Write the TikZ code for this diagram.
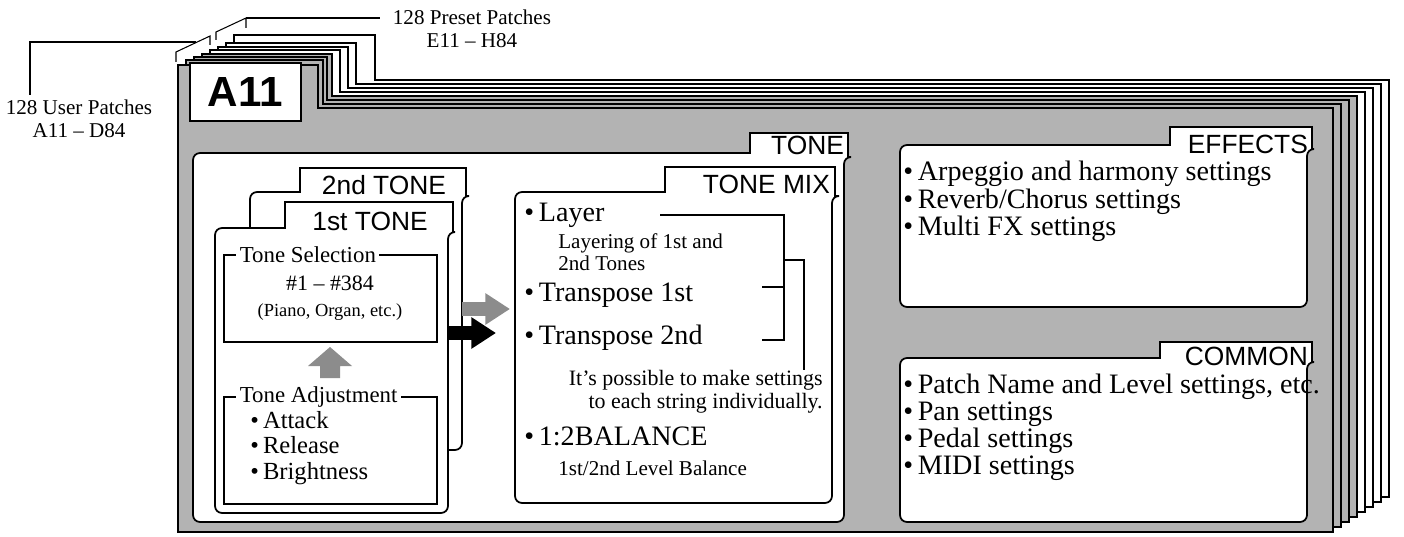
\documentclass[tikz,border=0pt]{standalone}
\usepackage{fontspec}
\setmainfont{Liberation Serif}
\setsansfont{Liberation Sans}
\usepackage{tikz}
\usetikzlibrary{arrows.meta}
\definecolor{pageGray}{HTML}{B3B3B3}
\definecolor{arrowGray}{HTML}{8C8C8C}

% card with a label tab at its top right: style, L, T, R, B, tab left, tab top, tab right
\newcommand{\tabcard}[8]{%
  \draw[#1] (#6,#3) [rounded corners=4pt] -- (#2,#3) -- (#2,#5) -- (#4,#5) -- (#4,{#3+4}) [sharp corners] -- (#8,{#3+4}) -- (#8,#7) -- (#6,#7) -- cycle;}
\newcommand{\bul}{\textbullet\,}

\begin{document}
\begin{tikzpicture}[
    x=0.02cm, y=-0.02cm,
    page/.style={draw=black, line width=1.1pt, line join=miter},
    card/.style={draw=black, fill=white, line width=1pt},
    box/.style={draw=black, fill=white, line width=0.6pt},
    tablabel/.style={anchor=south east, font=\sffamily\fontsize{15}{15}\selectfont, inner sep=1pt},
    item/.style={anchor=north west, align=left, font=\fontsize{16}{13.6}\selectfont, inner sep=0pt},
    note/.style={font=\fontsize{12.5}{13}\selectfont, inner sep=0pt},
    leader/.style={draw=black, line width=0.6pt},
    fatarrow/.style={-{Triangle[length=14pt,width=17pt]}, line width=8pt}
]
\useasboundingbox (0,0) rectangle (1404,537);

% stack of patch pages, back to front
\foreach \i/\tr/\tt/\fc in {7/375/35/white,6/356/43/white,5/348/47/white,4/340/50/white,3/332/54/pageGray,2/327/57/pageGray,1/323/60/pageGray}{
  \draw[page, fill=\fc] ({178+8*\i},{532-5*\i}) -- ({178+8*\i},\tt) -- (\tr,\tt) -- (\tr,{108-4*\i}) -- ({1333+8*\i},{108-4*\i}) -- ({1333+8*\i},{532-5*\i}) -- cycle;
}
\draw[page, fill=pageGray] (178,532) -- (178,65) -- (318,65) -- (318,108) -- (1333,108) -- (1333,532) -- cycle;
\node[box, line width=1pt, minimum width=111*0.02cm, minimum height=58*0.02cm, font=\sffamily\bfseries\fontsize{24}{24}\selectfont] (a11) at (245.5,92) {A11};

% bank callouts
\node[note, align=center, font=\fontsize{12}{13}\selectfont] (user) at (79,119) {128 User Patches\\A11 -- D84};
\node[note, align=center, font=\fontsize{12}{13}\selectfont] (preset) at (472,29) {128 Preset Patches\\E11 -- H84};
\coordinate (ub) at (210,36);
\coordinate (pb) at (246,18);
\draw[leader] (30,95) -- (30,42) -- (196,42);
\draw[leader] (176,62) -- (176,52) -- (ub) -- (210,45);
\draw[leader] (pb) -- (380,18);
\draw[leader] (216,40) -- (216,32) -- (pb) -- (246,28);

% TONE panel
\tabcard{card}{193}{153}{844}{522}{750}{133}{848}
\node[tablabel] (tone) at (846,157) {TONE};

% 2nd and 1st tone cards
\tabcard{card}{250}{192}{462}{450}{300}{168}{466}
\node[tablabel, anchor=south] (tone2) at (384,197) {2nd TONE};
\tabcard{card}{215}{228}{448}{513}{285}{202}{453}
\node[tablabel, anchor=south] (tone1) at (370,233) {1st TONE};

\draw[box] (224,255) rectangle (437,342);
\node[note, fill=white, inner sep=2pt, anchor=west, font=\fontsize{13}{14}\selectfont] (sel) at (236,255) {Tone Selection};
\node[note, align=center] (range) at (330,298) {{\fontsize{12.5}{14}\selectfont \#1 -- \#384}\\[2pt]{\fontsize{10.5}{11}\selectfont (Piano, Organ, etc.)}};

\draw[box] (224,397) rectangle (437,504);
\node[note, fill=white, inner sep=2pt, anchor=west, font=\fontsize{13}{14}\selectfont] (adj) at (236,397) {Tone Adjustment};
\node[item, font=\fontsize{14}{14.5}\selectfont] (adjlist) at (250,411) {\bul Attack\\\bul Release\\\bul Brightness};

\draw[fill=arrowGray, draw=none] (320,378) -- (320,366) -- (308,366) -- (330,347) -- (352,366) -- (340,366) -- (340,378) -- cycle;

% TONE MIX card
\tabcard{card}{515}{192}{832}{503}{665}{167}{835}
\node[tablabel] (mix) at (832,196) {TONE MIX};
\coordinate (arrA) at (510,309);
\coordinate (arrB) at (496,333);
\draw[fatarrow, arrowGray] (462,309) -- (arrA);
\draw[fatarrow, black] (448,333) -- (arrB);

\node[item] (layer) at (524,203) {\bul Layer};
\node[note, anchor=north west, align=left, font=\fontsize{12}{12.5}\selectfont] (layerinfo) at (558,233) {Layering of 1st and\\2nd Tones};
\node[item] (tr1) at (524,283) {\bul Transpose 1st};
\node[item] (tr2) at (524,325) {\bul Transpose 2nd};
\node[note, anchor=north east, align=right] (strnote) at (823,370) {It's possible to make settings\\to each string individually.};
\node[item] (bal) at (524,427) {\bul 1:2BALANCE};
\node[note, anchor=north west, font=\fontsize{12}{12.5}\selectfont] (balinfo) at (558,461) {1st/2nd Level Balance};
\draw[leader] (660,215) -- (784,215) -- (784,340) -- (762,340);
\draw[leader] (762,287) -- (784,287);
\draw[leader] (784,260) -- (804,260) -- (804,370);

% EFFECTS and COMMON panels
\tabcard{card}{900}{145}{1307}{307}{1170}{127}{1312}
\node[tablabel] (effects) at (1310,156) {EFFECTS};
\node[item] (efflist) at (903,161) {\bul Arpeggio and harmony settings\\\bul Reverb/Chorus settings\\\bul Multi FX settings};

\tabcard{card}{900}{358}{1307}{522}{1160}{342}{1312}
\node[tablabel] (common) at (1310,368) {COMMON};
\node[item] (comlist) at (903,374) {\bul Patch Name and Level settings, etc.\\\bul Pan settings\\\bul Pedal settings\\\bul MIDI settings};
\end{tikzpicture}
\end{document}
